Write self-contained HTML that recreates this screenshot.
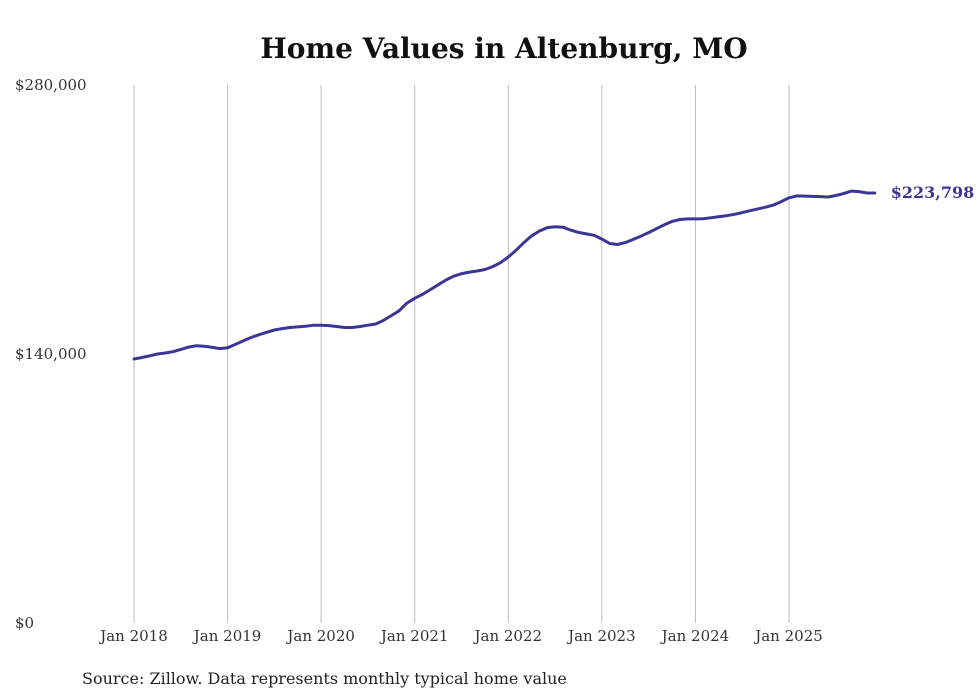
<!DOCTYPE html>
<html><head><meta charset="utf-8"><style>
html,body{margin:0;padding:0;background:#fff;}
svg{display:block;font-family:"DejaVu Serif","Liberation Serif",serif;}
</style></head><body>
<svg id="chart" width="980" height="699">
<text x="504" y="58" text-anchor="middle" font-size="28" font-weight="bold" fill="#111">Home Values in Altenburg, MO</text>
<g id="grid"></g>
<g id="yaxis"></g>
<g id="xaxis"></g>
<g id="series"></g>
<text x="82" y="684" font-size="16" fill="#222">Source: Zillow. Data represents monthly typical home value</text>
</svg>
<script>
const yTicks=[0,140000,280000];
const yTickLabels=["$0","$140,000","$280,000"];
const xTickLabels=["Jan 2018","Jan 2019","Jan 2020","Jan 2021","Jan 2022","Jan 2023","Jan 2024","Jan 2025"];
const values=[
137.4,138.2,139,140,140.5,141.2,142.4,143.6,144.3,144,143.5,142.8,
143.3,145,146.8,148.6,150,151.3,152.5,153.2,153.8,154.1,154.4,155,
155,154.8,154.3,153.8,153.8,154.3,155,155.6,157.5,160,162.5,166.5,
169,171,173.5,176,178.5,180.5,181.8,182.6,183.2,184,185.5,187.5,
190.5,194,198,201.5,204,205.8,206.2,206,204.5,203.3,202.5,201.8,
199.8,197.5,197,198,199.6,201.3,203.2,205.2,207.2,209,210,210.3,
210.3,210.4,210.9,211.5,212,212.7,213.6,214.6,215.5,216.4,217.5,219.3,
221.3,222.3,222.2,222,221.9,221.7,222.5,223.5,224.8,224.5,223.8,223.798
].map(v=>v*1000);
const endLabel="$223,798";
const NS="http://www.w3.org/2000/svg";
const x0=134,monthW=(789-134)/84,yBase=623,yTop=85,yMax=280000;
const xScale=i=>x0+i*monthW;
const yScale=v=>yBase-(v/yMax)*(yBase-yTop);
function mk(tag,attrs,parent){const e=document.createElementNS(NS,tag);for(const k in attrs)e.setAttribute(k,attrs[k]);parent.appendChild(e);return e;}
const grid=document.getElementById('grid'),ya=document.getElementById('yaxis'),xa=document.getElementById('xaxis'),se=document.getElementById('series');
xTickLabels.forEach((t,i)=>{
  const x=xScale(i*12);
  const l=mk('line',{x1:x,x2:x,y1:yTop,y2:yBase,stroke:'#bbb','stroke-width':1},grid);
  
  
  const tx=mk('text',{x:x,y:641,'text-anchor':'middle','font-size':15,fill:'#333'},xa);
  tx.textContent=t;
  
  
});
yTicks.forEach((v,i)=>{
  const tx=mk('text',{x:15,y:yScale(v)+5,'font-size':15,fill:'#333'},ya);
  tx.textContent=yTickLabels[i];
  
  
});
const d=values.map((v,i)=>(i?'L':'M')+xScale(i).toFixed(1)+','+yScale(v).toFixed(1)).join('');
const p=mk('path',{d:d,fill:'none',stroke:'#3b3598','stroke-width':3,'stroke-linejoin':'round','stroke-linecap':'round'},se);


const last=values.length-1;
const el=mk('text',{x:xScale(last)+16,y:yScale(values[last])+5,'font-size':16,'font-weight':'bold',fill:'#3b3598'},se);
el.textContent=endLabel;


</script>
</body></html>
